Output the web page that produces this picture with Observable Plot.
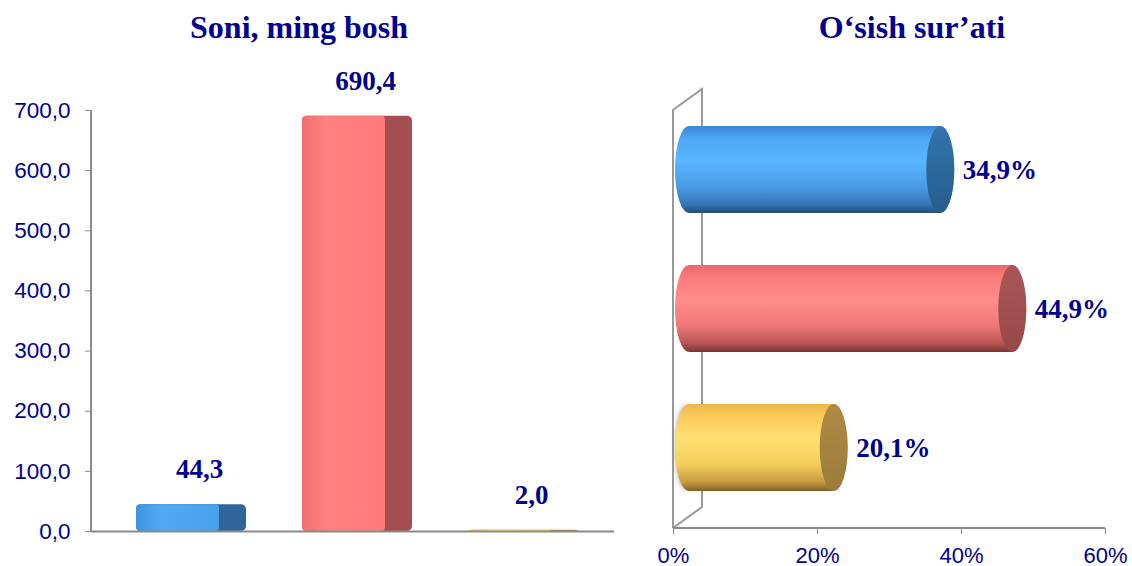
<!DOCTYPE html>
<html>
<head>
<meta charset="utf-8">
<script src="https://cdn.jsdelivr.net/npm/d3@7"></script>
<script src="https://cdn.jsdelivr.net/npm/@observablehq/plot@0.6"></script>
<style>
  html, body { margin: 0; padding: 0; background: #fff; }
  #wrap { position: relative; width: 1132px; height: 566px; overflow: hidden; }
  .title { position: absolute; top: 9px; font-family: "Liberation Serif", "Times New Roman", serif; font-weight: bold; font-size: 32px; line-height: 36px; color: #000090; text-align: center; white-space: nowrap; }
  #left, #right { position: absolute; top: 0; }
  #left { left: 0; }
  #right { left: 620px; }
  #left svg text, #right svg text { fill: #000090; }
</style>
</head>
<body>
<div id="wrap">
  <svg width="0" height="0" style="position:absolute">
    <defs>
      <linearGradient id="cylBlue" x1="0" y1="0" x2="0" y2="1">
        <stop offset="0" stop-color="#3A86D0"/><stop offset="0.15" stop-color="#4FA8F5"/>
        <stop offset="0.4" stop-color="#5AB6FF"/><stop offset="0.7" stop-color="#4A9BE5"/>
        <stop offset="0.9" stop-color="#3575B5"/><stop offset="1" stop-color="#234E7A"/>
      </linearGradient>
      <linearGradient id="cylRed" x1="0" y1="0" x2="0" y2="1">
        <stop offset="0" stop-color="#E86A6A"/><stop offset="0.15" stop-color="#FA7C7C"/>
        <stop offset="0.4" stop-color="#FF8C8C"/><stop offset="0.7" stop-color="#F07777"/>
        <stop offset="0.9" stop-color="#B85555"/><stop offset="1" stop-color="#7A3535"/>
      </linearGradient>
      <linearGradient id="cylYellow" x1="0" y1="0" x2="0" y2="1">
        <stop offset="0" stop-color="#EDB64A"/><stop offset="0.15" stop-color="#FCCB5A"/>
        <stop offset="0.4" stop-color="#FFE072"/><stop offset="0.7" stop-color="#F5CD5A"/>
        <stop offset="0.9" stop-color="#C49A40"/><stop offset="1" stop-color="#7E6128"/>
      </linearGradient>
      <linearGradient id="capBlue" x1="0" y1="0" x2="0" y2="1">
        <stop offset="0" stop-color="#3274AD"/><stop offset="1" stop-color="#285C8A"/>
      </linearGradient>
      <linearGradient id="capRed" x1="0" y1="0" x2="0" y2="1">
        <stop offset="0" stop-color="#AA5656"/><stop offset="1" stop-color="#984848"/>
      </linearGradient>
      <linearGradient id="capYellow" x1="0" y1="0" x2="0" y2="1">
        <stop offset="0" stop-color="#AE8A44"/><stop offset="1" stop-color="#9C7C3A"/>
      </linearGradient>
      <linearGradient id="colBlue" x1="0" y1="0" x2="1" y2="0">
        <stop offset="0" stop-color="#3F94DE"/><stop offset="0.3" stop-color="#52A9F2"/><stop offset="1" stop-color="#4AA0EC"/>
      </linearGradient>
      <linearGradient id="colRed" x1="0" y1="0" x2="1" y2="0">
        <stop offset="0" stop-color="#F07070"/><stop offset="0.3" stop-color="#FF8080"/><stop offset="1" stop-color="#FF7B7B"/>
      </linearGradient>
      <linearGradient id="colYellow" x1="0" y1="0" x2="1" y2="0">
        <stop offset="0" stop-color="#F0C050"/><stop offset="0.3" stop-color="#FFDA6A"/><stop offset="1" stop-color="#FFD560"/>
      </linearGradient>
      <filter id="shadow" x="-50%" y="-20%" width="200%" height="140%">
        <feGaussianBlur stdDeviation="3"/>
      </filter>
    </defs>
  </svg>
  <div class="title" style="left:0; width:598px;">Soni, ming bosh</div>
  <div class="title" style="left:700px; width:424px;">O‘sish sur’ati</div>
  <div id="left"></div>
  <div id="right"></div>
</div>
<script>
// ---- data ----
const categories = ["1", "2", "3"];
const counts = [44.3, 690.4, 2.0];          // Soni, ming bosh
const growth = [34.9, 44.9, 20.1];          // O‘sish sur’ati, %
const yTicks = [0, 100, 200, 300, 400, 500, 600, 700];
const xTicks = [0, 20, 40, 60];

// ---- styles ----
const colFront = ["url(#colBlue)", "url(#colRed)", "url(#colYellow)"];
const colSide = ["#2F669A", "#A34E50", "#A88740"];
const cylBody = ["url(#cylBlue)", "url(#cylRed)", "url(#cylYellow)"];
const cylCap = ["url(#capBlue)", "url(#capRed)", "url(#capYellow)"];
const comma1 = v => v.toFixed(1).replace(".", ",");

const leftData = categories.map((c, i) => ({cat: c, v: counts[i], i}));
const rightData = categories.map((c, i) => ({cat: c, v: growth[i], i}));

const labelFont = {fontFamily: "Liberation Serif, Times New Roman, serif", fontSize: 27, fontWeight: "bold", fill: "#000090"};

// ---- left chart ----
const L = {w: 620, h: 566, mt: 110, mb: 35, ml: 91, mr: 6};
const leftMarks = [];
leftData.forEach(d => {
  leftMarks.push(Plot.barY([d], {x: "cat", y: "v", fill: colSide[d.i], rx: 5}));
  leftMarks.push(Plot.barY([d], {x: "cat", y: "v", fill: colFront[d.i], insetRight: 27, rx: 4}));
});
leftMarks.push(Plot.ruleY([0], {stroke: "#8a8a8a", strokeWidth: 2}));
leftMarks.push(Plot.text(leftData, {x: "cat", y: "v", text: d => comma1(d.v), dy: -35, dx: 8, ...labelFont}));

const left = Plot.plot({
  width: L.w, height: L.h,
  marginTop: L.mt, marginBottom: L.mb, marginLeft: L.ml, marginRight: L.mr,
  style: {fontFamily: "Liberation Sans, Arial, sans-serif", fontSize: "22.5px", color: "#8a8a8a", background: "transparent", overflow: "visible"},
  x: {domain: categories, range: [107, 606], paddingInner: 0.34, paddingOuter: 0.17, axis: null},
  y: {domain: [0, 700], ticks: yTicks, tickFormat: comma1, tickSize: 6, tickPadding: 15, label: null},
  marks: leftMarks
});
document.getElementById("left").appendChild(left);
{
  const ys = left.scale("y");
  const ns = "http://www.w3.org/2000/svg";
  const line = document.createElementNS(ns, "line");
  line.setAttribute("x1", L.ml); line.setAttribute("x2", L.ml);
  line.setAttribute("y1", ys.apply(700)); line.setAttribute("y2", ys.apply(0) + 1);
  line.setAttribute("stroke", "#8a8a8a"); line.setAttribute("stroke-width", 2);
  left.appendChild(line);
}

// ---- right chart ----
const R = {w: 512, h: 566, mt: 110, mb: 38, ml: 53, mr: 27};
const rightMarks = [];
rightData.forEach(d => {
  rightMarks.push(Plot.barX([d], {x1: 0, x2: "v", y: "cat", fill: cylBody[d.i], insetLeft: -14, insetRight: -14, rx: 14, ry: 44, dx: 16}));
  rightMarks.push(Plot.barX([d], {x1: "v", x2: "v", y: "cat", fill: cylCap[d.i], insetLeft: -14, insetRight: -14, rx: 14, ry: 44, dx: 16}));
});
rightMarks.push(Plot.text(rightData, {x: "v", y: "cat", text: d => comma1(d.v) + "%", textAnchor: "start", dx: 38, ...labelFont}));

const right = Plot.plot({
  width: R.w, height: R.h,
  marginTop: R.mt, marginBottom: R.mb, marginLeft: R.ml, marginRight: R.mr,
  style: {fontFamily: "Liberation Sans, Arial, sans-serif", fontSize: "22px", color: "#8a8a8a", background: "transparent", overflow: "visible"},
  x: {domain: [0, 60], ticks: xTicks, tickFormat: d => d + "%", tickSize: 6, tickPadding: 13, label: null},
  y: {domain: categories, range: [99, 519], paddingInner: 0.371, paddingOuter: 0.186, axis: null},
  marks: rightMarks
});
document.getElementById("right").appendChild(right);
{
  const xs = right.scale("x");
  const ys = right.scale("y");
  const ns = "http://www.w3.org/2000/svg";
  const x0 = xs.apply(0), x1 = xs.apply(60);
  const top = R.mt, bot = R.h - R.mb;
  const wall = document.createElementNS(ns, "path");
  wall.setAttribute("d", `M${x0},${bot}L${x0},${top}L${x0 + 29},${top - 21}L${x0 + 29},${bot - 21}L${x0},${bot}`);
  wall.setAttribute("fill", "none"); wall.setAttribute("stroke", "#999"); wall.setAttribute("stroke-width", 2);
  // soft shadow at the left end of the last cylinder
  const yy = ys.apply(categories[2]), bw = ys.bandwidth;
  const sh = document.createElementNS(ns, "ellipse");
  sh.setAttribute("cx", x0 + 14); sh.setAttribute("cy", yy + bw / 2);
  sh.setAttribute("rx", 10); sh.setAttribute("ry", bw / 2 - 2);
  sh.setAttribute("fill", "#777"); sh.setAttribute("filter", "url(#shadow)");
  const ax = document.createElementNS(ns, "line");
  ax.setAttribute("x1", x0); ax.setAttribute("x2", x1);
  ax.setAttribute("y1", bot); ax.setAttribute("y2", bot);
  ax.setAttribute("stroke", "#8a8a8a"); ax.setAttribute("stroke-width", 2);
  const firstG = right.querySelector("g");
  right.insertBefore(wall, firstG);
  right.insertBefore(sh, firstG);
  right.appendChild(ax);
}
</script>
</body>
</html>
